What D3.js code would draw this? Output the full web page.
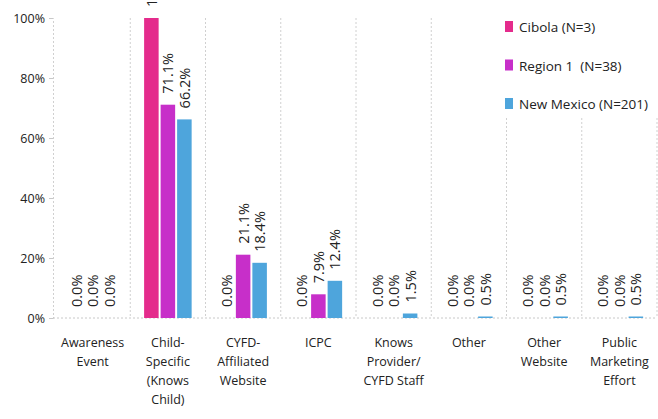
<!DOCTYPE html>
<html>
<head>
<meta charset="utf-8">
<script src="https://cdn.jsdelivr.net/npm/d3@7"></script>
<style>
  body { margin: 0; background: #fff; }
  svg text { font-family: "Open Sans", "DejaVu Sans", sans-serif; fill: #222; }
</style>
</head>
<body>
<div id="area"></div>
<script>
const categories = [
  ['Awareness', 'Event'],
  ['Child-', 'Specific', '(Knows', 'Child)'],
  ['CYFD-', 'Affiliated', 'Website'],
  ['ICPC'],
  ['Knows', 'Provider/', 'CYFD Staff'],
  ['Other'],
  ['Other', 'Website'],
  ['Public', 'Marketing', 'Effort']
]
const seriesNames = ['Cibola (N=3)', 'Region 1  (N=38)', 'New Mexico (N=201)']
const cibola = [0, 100, 0, 0, 0, 0, 0, 0]
const region1 = [0, 71.1, 21.1, 7.9, 0, 0, 0, 0]
const newMexico = [0, 66.2, 18.4, 12.4, 1.5, 0.5, 0.5, 0.5]
const yTicks = [0, 20, 40, 60, 80, 100]
const colors = ['#e42b8c', '#c72fc9', '#4ea5dc']

const series = [cibola, region1, newMexico]
const width = 658, height = 419
const plotLeft = 55, plotRight = 657, plotTop = 18, plotBottom = 318

const svg = d3.select('#area')
  .append('svg')
  .attr('width', width)
  .attr('height', height)

const xScale = d3.scaleBand()
  .domain(d3.range(categories.length))
  .range([plotLeft, plotRight])
const inner = d3.scaleBand()
  .domain(d3.range(series.length))
  .range([0, xScale.bandwidth()])
  .paddingInner(0.12)
  .paddingOuter(0.84)
const yScale = d3.scaleLinear()
  .domain([0, 100])
  .range([plotBottom, plotTop])

// category separators
svg.selectAll('.sep')
  .data(d3.range(categories.length))
  .enter()
  .append('line')
  .attr('x1', i => xScale(i) + xScale.bandwidth())
  .attr('x2', i => xScale(i) + xScale.bandwidth())
  .attr('y1', plotTop)
  .attr('y2', plotBottom)
  .attr('stroke', '#d0d0d0')
  .attr('stroke-dasharray', '2,2')

// y axis
const yAxis = svg.append('g')
  .attr('transform', `translate(${plotLeft - 2},0)`)
  .call(d3.axisLeft(yScale).tickValues(yTicks).tickFormat(d => d + '%').tickSize(4))
yAxis.select('.domain').attr('stroke', '#d0d0d0').attr('stroke-dasharray', '2,2')
yAxis.selectAll('.tick line').attr('stroke', '#c8c8c8')
yAxis.selectAll('.tick text').attr('font-size', 12.5).attr('fill', '#222').attr('x', -8)

// baseline
svg.append('line')
  .attr('x1', plotLeft - 2).attr('x2', plotRight)
  .attr('y1', plotBottom).attr('y2', plotBottom)
  .attr('stroke', '#c8c8c8')
  .attr('stroke-dasharray', '2,2')

// bars + labels
series.forEach((vals, s) => {
  const g = svg.append('g')
  g.selectAll('rect')
    .data(vals)
    .enter()
    .append('rect')
    .attr('x', (d, i) => xScale(i) + inner(s))
    .attr('y', d => yScale(d))
    .attr('width', inner.bandwidth())
    .attr('height', d => plotBottom - yScale(d))
    .attr('fill', colors[s])
  g.selectAll('text')
    .data(vals)
    .enter()
    .append('text')
    .attr('transform', (d, i) => {
      const x = xScale(i) + inner(s) + inner.bandwidth() / 2 + 5.5
      const y = yScale(d) - 11
      return `translate(${x},${y}) rotate(-90)`
    })
    .attr('font-size', 14.5)
    .text(d => d.toFixed(1) + '%')
})

// category labels
categories.forEach((lines, i) => {
  const t = svg.append('text')
    .attr('x', xScale(i) + xScale.bandwidth() / 2)
    .attr('y', 347)
    .attr('text-anchor', 'middle')
    .attr('font-size', 12.5)
  lines.forEach((l, j) => {
    t.append('tspan')
      .attr('x', xScale(i) + xScale.bandwidth() / 2)
      .attr('dy', j === 0 ? 0 : 19)
      .text(l)
  })
})

// legend
const legend = svg.append('g')
legend.append('rect')
  .attr('x', 497).attr('y', 8).attr('width', 161).attr('height', 110)
  .attr('fill', '#fff')
seriesNames.forEach((n, s) => {
  legend.append('rect')
    .attr('x', 505).attr('y', 21 + s * 38.5)
    .attr('width', 8).attr('height', 11)
    .attr('fill', colors[s])
  legend.append('text')
    .attr('x', 519).attr('y', 32 + s * 38.5)
    .attr('font-size', 13.5)
    .style('white-space', 'pre')
    .text(n)
})
</script>
</body>
</html>
